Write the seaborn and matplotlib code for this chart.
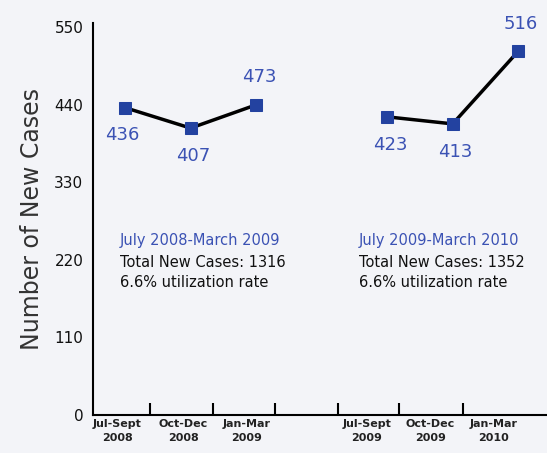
import matplotlib
matplotlib.use("Agg")
import matplotlib.pyplot as plt
import seaborn as sns
import pandas as pd

# data
periods = ["July 2008-March 2009", "July 2009-March 2010"]
quarters = ["Jul-Sept\n2008", "Oct-Dec\n2008", "Jan-Mar\n2009",
            "Jul-Sept\n2009", "Oct-Dec\n2009", "Jan-Mar\n2010"]
# marker heights as drawn in the picture (third one sits lower than its label says)
cases_plotted = [436, 407, 440, 423, 413, 516]
value_labels = ["436", "407", "473", "423", "413", "516"]
totals = [1316, 1352]
util_rates = ["6.6%", "6.6%"]

slot = [0, 1, 2, 4, 5, 6]
df = pd.DataFrame({
    "slot": slot,
    "cases": cases_plotted,
    "period": [periods[0]] * 3 + [periods[1]] * 3,
})

sns.set_style("white")
plt.rcParams["font.family"] = ["DejaVu Sans"]

bg = "#f3f4f8"
blue = "#2342a0"
label_blue = "#3b52b4"

fig = plt.figure(figsize=(5.47, 4.53), dpi=100, facecolor=bg)
ax = fig.add_axes([0.170, 0.084, 0.83, 0.865])
ax.set_facecolor(bg)

for p in periods:
    sub = df[df["period"] == p]
    sns.lineplot(data=sub, x="slot", y="cases", ax=ax, color="black",
                 linewidth=2.5, marker="s", markersize=8,
                 markerfacecolor=blue, markeredgecolor=blue, zorder=3)

# value labels
below = [True, True, False, True, True, False]
for x, y, t, b in zip(slot, cases_plotted, value_labels, below):
    dy = -20 if b else 20
    ax.annotate(t, (x, y), xytext=(-2 if x == 0 else 2, dy),
                textcoords="offset points", ha="center", va="center",
                fontsize=13, color=label_blue)

ax.set_xlim(-0.49, 6.44)
ax.set_ylim(0, 556)
ax.set_yticks([0, 110, 220, 330, 440, 550])
ax.tick_params(axis="y", length=0, labelsize=11, pad=7, labelcolor="#111111")

label_pos = [-0.12, 0.89, 1.85, 3.69, 4.66, 5.62]
ax.set_xticks(label_pos)
ax.set_xticklabels(quarters, fontsize=8, fontweight="bold", linespacing=1.45,
                   color="#222222")
ax.set_xticks([0.38, 1.34, 2.29, 3.25, 4.18, 5.16], minor=True)
ax.tick_params(axis="x", which="major", length=0, pad=3)
ax.tick_params(axis="x", which="minor", bottom=True, direction="in", length=9,
               width=1.5, color="black")
ax.set_xlabel("")
ax.set_ylabel("Number of New Cases", fontsize=17, color="#333333", labelpad=7)

for s in ["top", "right"]:
    ax.spines[s].set_visible(False)
for s in ["left", "bottom"]:
    ax.spines[s].set_color("black")
    ax.spines[s].set_linewidth(1.5)

# period summaries
text_x = [-0.08, 3.57]
for tx, p, tot, u in zip(text_x, periods, totals, util_rates):
    ax.text(tx, 248, p, fontsize=10.5, color=label_blue, va="center")
    ax.text(tx, 217, f"Total New Cases: {tot}", fontsize=10.5, color="#111111", va="center")
    ax.text(tx, 188, f"{u} utilization rate", fontsize=10.5, color="#111111", va="center")

fig.savefig("out.png", dpi=100, facecolor=bg)
